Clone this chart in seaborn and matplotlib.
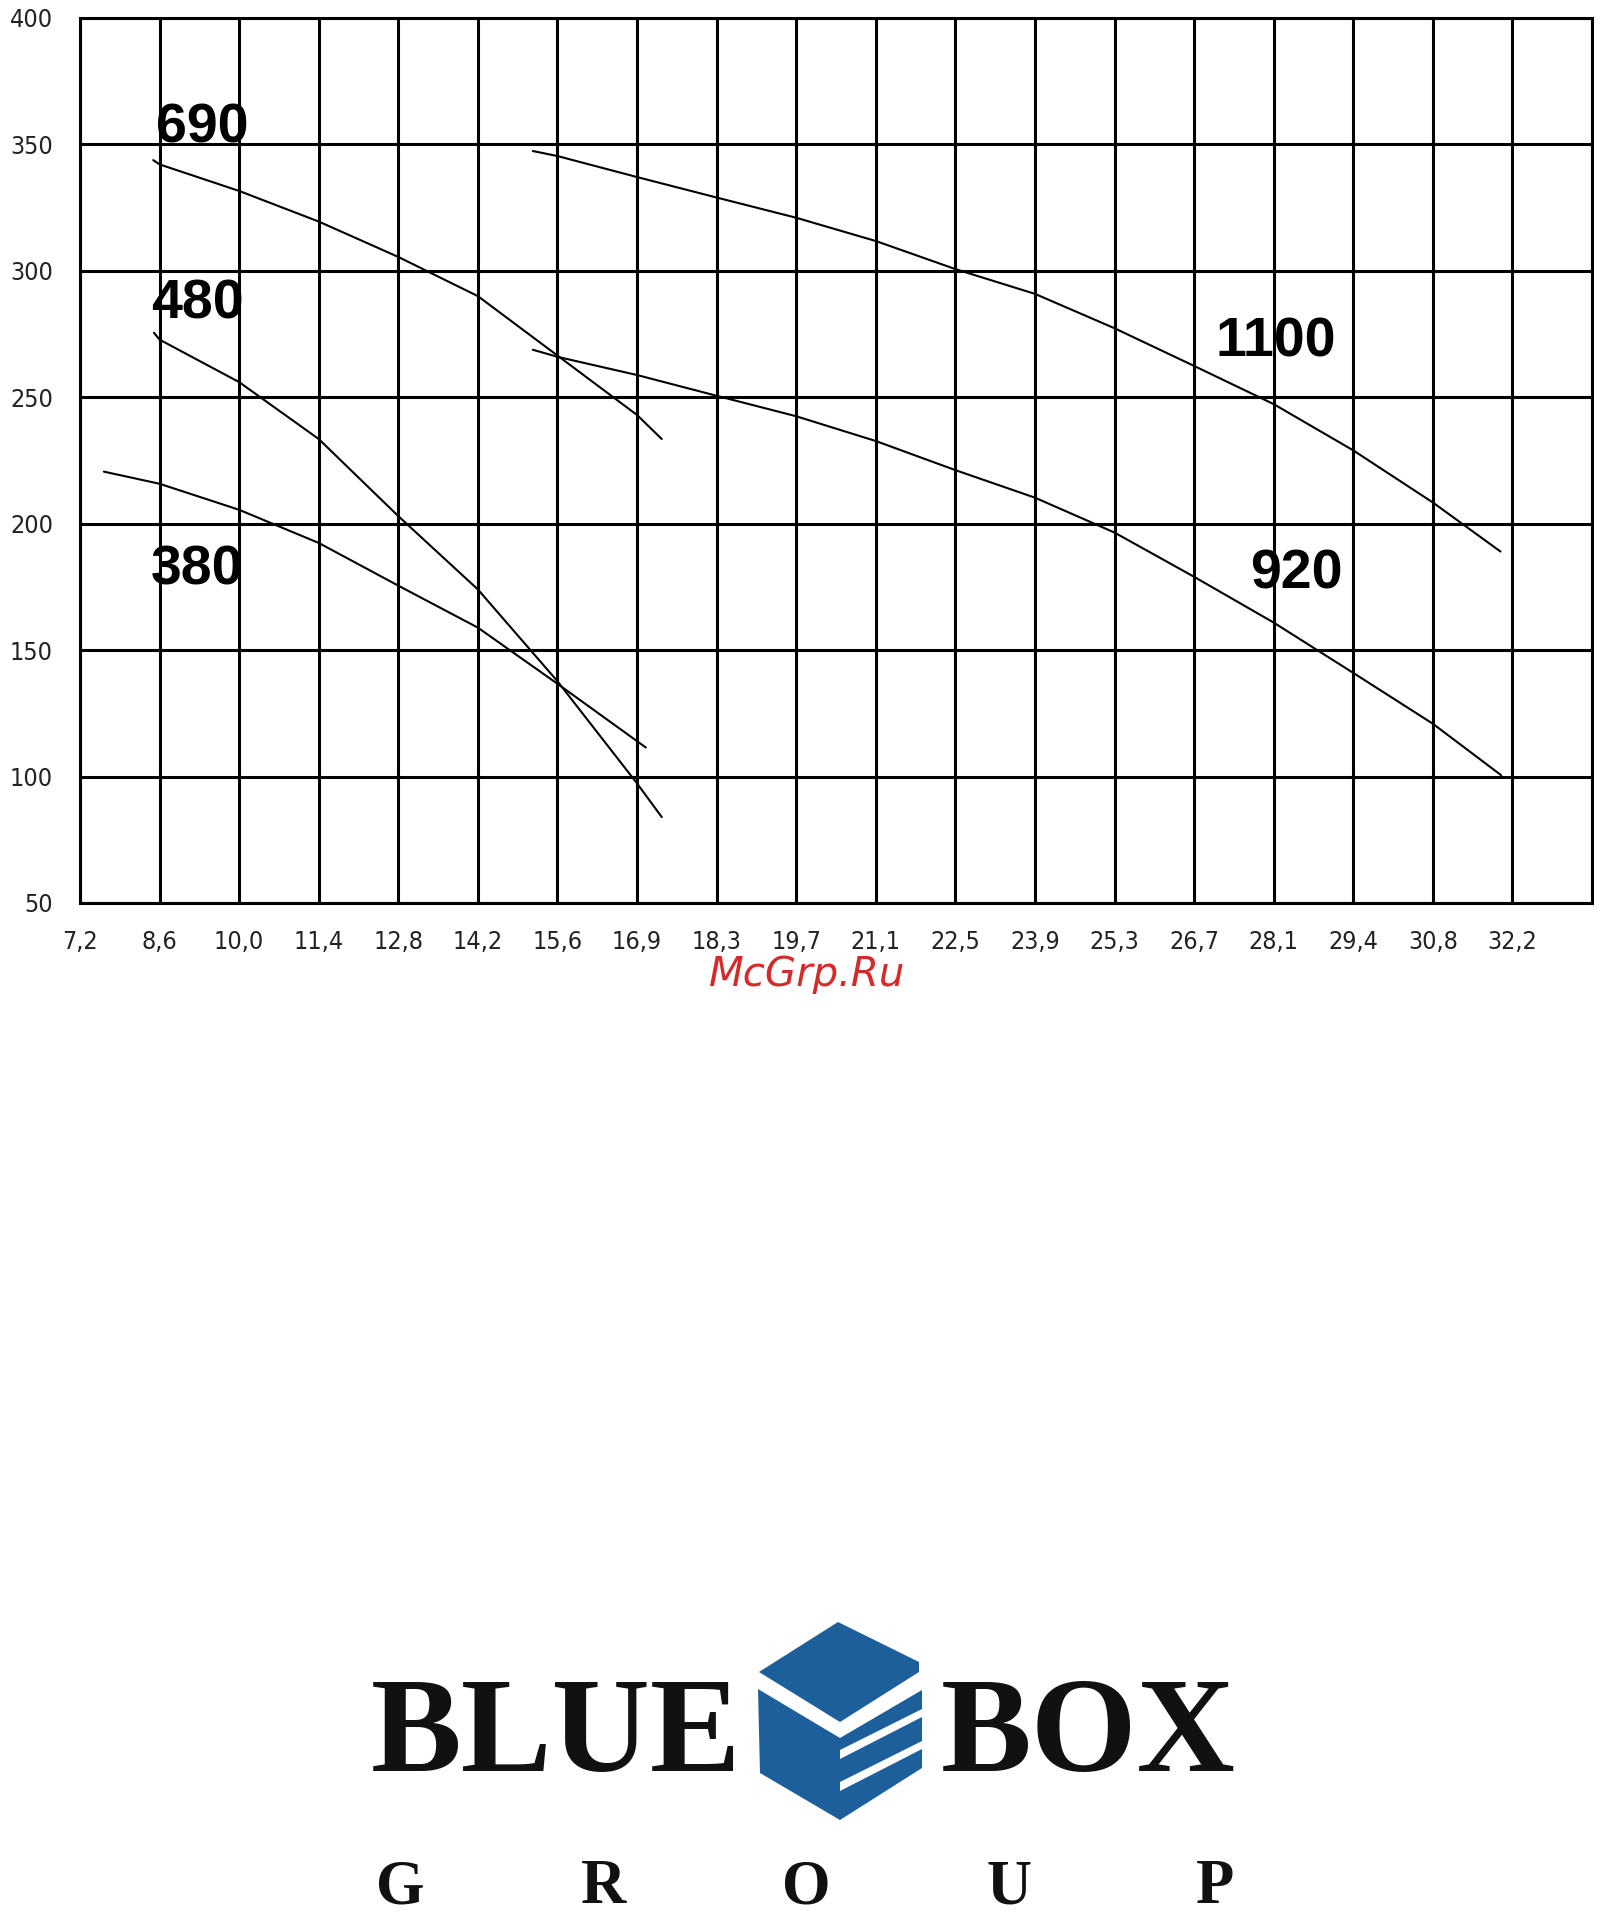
import numpy as np
import pandas as pd
import matplotlib
matplotlib.use("Agg")
import matplotlib.pyplot as plt
from matplotlib import font_manager
import seaborn as sns

# x axis is a category scale: position 0 -> "7,2", 1 -> "8,6", ...
x_labels = ["7,2", "8,6", "10,0", "11,4", "12,8", "14,2", "15,6", "16,9", "18,3", "19,7",
            "21,1", "22,5", "23,9", "25,3", "26,7", "28,1", "29,4", "30,8", "32,2", ""]
y_ticks = [50, 100, 150, 200, 250, 300, 350, 400]

# curves (x = position on the category scale)
x_380 = [0.3, 1, 2, 3, 4, 5, 6, 7, 7.11]
y_380 = [220.6, 215.8, 205.5, 192.4, 175.5, 158.9, 136.7, 114.0, 111.5]

x_480 = [0.93, 1, 2, 3, 4, 5, 6, 7, 7.31]
y_480 = [275.5, 272.8, 256.0, 233.5, 203.0, 174.0, 137.7, 97.3, 84.0]

x_690 = [0.92, 1, 2, 3, 4, 5, 6, 7, 7.31]
y_690 = [343.8, 342.1, 331.6, 319.5, 305.5, 290.0, 266.5, 243.0, 233.5]

x_920 = [5.69, 6, 7, 8, 9, 10, 11, 12, 13, 14, 15, 16, 17, 17.86]
y_920 = [268.8, 266.0, 258.8, 250.6, 242.5, 232.7, 221.2, 210.3, 196.5, 179.0, 160.9, 141.0, 120.9, 100.5]

x_1100 = [5.69, 6, 7, 8, 9, 10, 11, 12, 13, 14, 15, 16, 17, 17.85]
y_1100 = [347.4, 345.4, 337.1, 329.0, 321.0, 311.8, 300.7, 290.9, 277.3, 262.4, 247.3, 229.0, 208.4, 189.0]

curve_names = ["380", "480", "690", "920", "1100"]
label_x = [1.47, 1.47, 1.53, 15.28, 15.03]
label_y = [175.8, 281.3, 350.8, 174.2, 266.3]

# logo pieces (pixel coords of the page)
cube_top = [(759, 1672), (838, 1622), (919, 1662), (919, 1672), (840, 1722)]
cube_left = [(758, 1689), (840, 1738), (840, 1820), (760, 1773)]
cube_right = [(840, 1738), (922, 1690), (922, 1768), (840, 1820)]
stripe_1 = [(840, 1750), (922, 1709), (922, 1717), (840, 1759)]
stripe_2 = [(840, 1782), (922, 1741), (922, 1749), (840, 1791)]
group_letters = ["G", "R", "O", "U", "P"]
group_x = [400, 603, 806, 1009, 1215]

frames = []
for name, xs, ys in zip(curve_names,
                        [x_380, x_480, x_690, x_920, x_1100],
                        [y_380, y_480, y_690, y_920, y_1100]):
    frames.append(pd.DataFrame({"pos": xs, "head": ys, "curve": name}))
df = pd.concat(frames, ignore_index=True)

sns.set_style("white")
plt.rcParams["font.family"] = ["DejaVu Sans"]

# narrow face for the tick labels, if the condensed DejaVu is around
cond_path = font_manager.findfont(font_manager.FontProperties(family="DejaVu Sans", stretch="condensed"))
has_cond = "ondensed" in cond_path
tick_size = 18 if has_cond else 16

W, H = 1605, 1929
fig = plt.figure(figsize=(W / 100, H / 100), dpi=100)
ax = fig.add_axes([80 / W, 1 - 903 / H, (1592 - 80) / W, (903 - 18) / H])

sns.lineplot(data=df, x="pos", y="head", hue="curve",
             palette={n: "black" for n in curve_names},
             estimator=None, sort=False, legend=False, linewidth=1.5, ax=ax)

ax.set_xlim(0, 19)
ax.set_ylim(50, 400)
ax.set_xticks(range(len(x_labels)))
ax.set_xticklabels(x_labels)
ax.set_yticks(y_ticks)
ax.set_xlabel("")
ax.set_ylabel("")
ax.grid(True, color="black", linewidth=2.2)
ax.set_axisbelow(True)
for s in ax.spines.values():
    s.set_color("black")
    s.set_linewidth(2.2)
ax.tick_params(axis="both", direction="out", length=8.5, width=2.2, color="black")
ax.tick_params(axis="x", pad=11)
ax.tick_params(axis="y", pad=11)
for t in ax.get_xticklabels() + ax.get_yticklabels():
    t.set_family("DejaVu Sans")
    t.set_stretch("condensed")
    t.set_fontsize(tick_size)
    t.set_color("#222222")

for name, lx, ly in zip(curve_names, label_x, label_y):
    ax.text(lx, ly, name, ha="center", va="baseline", fontsize=40,
            family=["Liberation Sans", "DejaVu Sans"], fontweight="bold", color="black")

# watermark
fig.text(807 / W, 1 - 974 / H, "McGrp.Ru", ha="center", va="center",
         fontsize=29, style="italic", color="#d42a2a")

# logo
lax = fig.add_axes([0, 0, 1, 1], facecolor="none")
lax.set_xlim(0, W)
lax.set_ylim(H, 0)
lax.axis("off")
blue = "#1d5f9b"
for poly in [cube_top, cube_left, cube_right]:
    px, py = zip(*poly)
    lax.fill(px, py, color=blue, lw=0)
for poly in [stripe_1, stripe_2]:
    px, py = zip(*poly)
    lax.fill(px, py, color="white", lw=0)

serif = ["Liberation Serif", "DejaVu Serif"]
fig.text(556 / W, 1 - 1771 / H, "BLUE", ha="center", va="baseline", fontsize=98,
         family=serif, fontweight="bold", color="#111111")
fig.text(1088 / W, 1 - 1771 / H, "BOX", ha="center", va="baseline", fontsize=98,
         family=serif, fontweight="bold", color="#111111")
for letter, gx in zip(group_letters, group_x):
    fig.text(gx / W, 1 - 1903 / H, letter, ha="center", va="baseline", fontsize=45,
             family=serif, fontweight="bold", color="#111111")

fig.savefig("out.png", dpi=100)
plt.close(fig)
